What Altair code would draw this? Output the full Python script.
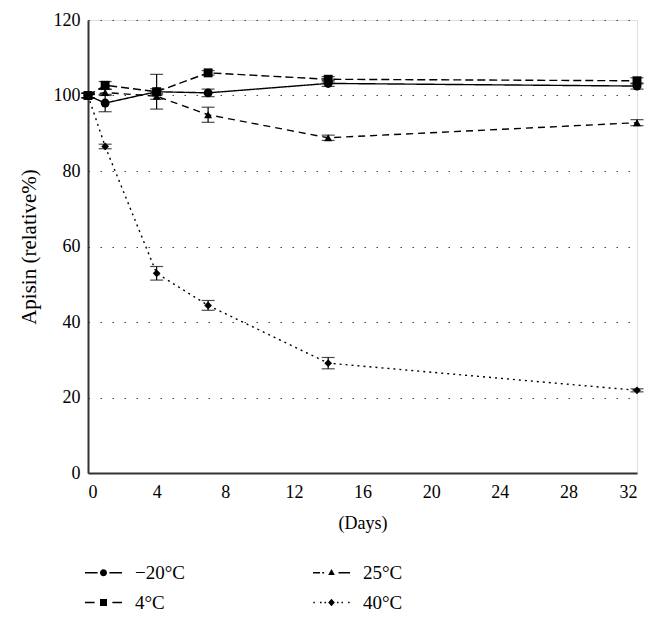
import altair as alt
import pandas as pd

days = [0, 1, 4, 7, 14, 32]
series_names = ["−20°C", "4°C", "25°C", "40°C"]
values = {
    "−20°C": [100, 98.0, 101.0, 100.7, 103.2, 102.5],
    "4°C": [100, 102.7, 101.0, 106.0, 104.3, 103.9],
    "25°C": [100, 100.8, 99.8, 94.9, 88.8, 92.8],
    "40°C": [100, 86.5, 52.9, 44.4, 29.1, 21.9],
}
errors = {
    "−20°C": [0.6, 2.3, 4.6, 1.0, 0.8, 0.8],
    "4°C": [0.6, 1.0, 0.8, 0.6, 0.7, 0.8],
    "25°C": [0.6, 0.8, 0.8, 2.0, 0.7, 0.8],
    "40°C": [0.6, 0.6, 1.8, 1.3, 1.5, 0.4],
}
x_ticks = [0, 4, 8, 12, 16, 20, 24, 28, 32]
y_ticks = [0, 20, 40, 60, 80, 100, 120]

rows = []
for s in series_names:
    for d, v, e in zip(days, values[s], errors[s]):
        rows.append({"day": d, "series": s, "value": v, "lo": v - e, "hi": v + e})
df = pd.DataFrame(rows)

FONT = "Liberation Serif"
W, H = 549, 453

x = alt.X("day:Q", scale=alt.Scale(domain=[0, 32], nice=False),
          axis=alt.Axis(values=x_ticks, title="(Days)", grid=False, ticks=False,
                        labelPadding=10, titlePadding=13, labelFontSize=18,
                        titleFontSize=18, titleFontWeight="normal", labelFont=FONT,
                        titleFont=FONT, domainColor="#333", domainWidth=2,
                        labelColor="black", titleColor="black"))
yscale = alt.Scale(domain=[0, 120], nice=False)

# dash scale listed in reverse order so it is not merged with the legend's scale
dash_domain = series_names[::-1]
dash_range = [[2, 4], [7, 5], [8, 4], [1, 0]]
line_dash = alt.StrokeDash(
    "series:N",
    scale=alt.Scale(domain=dash_domain, range=dash_range),
    legend=None,
)

lines = alt.Chart(df).mark_line(color="black", strokeWidth=1.4).encode(
    x=x,
    y=alt.Y("value:Q", scale=yscale,
            axis=alt.Axis(values=y_ticks, title="Apisin (relative%)", ticks=False,
                          labelPadding=8, titlePadding=14, labelFontSize=18,
                          titleFontSize=21, titleFontWeight="normal",
                          labelFont=FONT, titleFont=FONT, domainColor="#333",
                          domainWidth=2, gridColor="#444", gridDash=[1.5, 10.5],
                          gridWidth=1.2, labelColor="black", titleColor="black")),
    strokeDash=line_dash,
    detail="series:N",
)

bars = alt.Chart(df).mark_rule(color="black", strokeWidth=1.2).encode(
    x="day:Q", y="lo:Q", y2="hi:Q")
cap_lo = alt.Chart(df).mark_tick(color="black", orient="horizontal", size=13,
                                 thickness=1.2).encode(x="day:Q", y="lo:Q")
cap_hi = alt.Chart(df).mark_tick(color="black", orient="horizontal", size=13,
                                 thickness=1.2).encode(x="day:Q", y="hi:Q")

marker_shapes = ["circle", "square", "triangle-up", "diamond"]
marker_sizes = [80, 80, 65, 60]
point_layers = [
    alt.Chart(df).transform_filter(alt.datum.series == s).mark_point(
        filled=True, color="black", opacity=1, shape=shp, size=sz
    ).encode(x="day:Q", y="value:Q")
    for s, shp, sz in zip(series_names, marker_shapes, marker_sizes)
]


# legend glyphs: line segments drawn as thin bars plus a filled marker
def seg(a, b, t=0.04):
    return f"M{a},-{t}L{b},-{t}L{b},{t}L{a},{t}"


circ = "M-0.19,0A0.19,0.19,0,1,1,0.19,0A0.19,0.19,0,1,1,-0.19,0"
sq = "M-0.19,-0.19L0.19,-0.19L0.19,0.19L-0.19,0.19"
tri = "M0,-0.2L0.18,0.12L-0.18,0.12"
dia = "M0,-0.2L0.18,0L0,0.2L-0.18,0"
legend_paths = [
    seg(-1, -0.32) + seg(0.32, 1) + circ,
    seg(-1, -0.48) + seg(0.48, 1) + sq,
    seg(-1, -0.62) + seg(-0.5, -0.4) + seg(0.38, 1) + tri,
    seg(-0.98, -0.9) + seg(-0.62, -0.54) + seg(-0.38, -0.3)
    + seg(0.3, 0.38) + seg(0.54, 0.62) + seg(0.9, 0.98) + dia,
]

legend_layer = alt.Chart(df).mark_point(
    filled=True, fill="black", stroke="black", strokeWidth=1.5, opacity=0
).encode(
    x="day:Q",
    y="value:Q",
    shape=alt.Shape(
        "series:N",
        scale=alt.Scale(domain=series_names, range=legend_paths),
        legend=alt.Legend(
            title=None, orient="none", legendX=-4, legendY=H + 80, columns=2,
            columnPadding=125, rowPadding=-4, symbolSize=1369, symbolOpacity=1,
            symbolFillColor="black", symbolStrokeColor="black",
            symbolStrokeWidth=1.5, labelFont=FONT, labelFontSize=19,
            labelOffset=12, labelColor="black",
        ),
    ),
)

chart = alt.layer(lines, bars, cap_lo, cap_hi, *point_layers, legend_layer).properties(
    width=W, height=H,
    autosize=alt.AutoSizeParams(type="none"),
    padding={"left": 80, "top": 12, "right": 15, "bottom": 140},
).configure_view(stroke="#666", strokeWidth=1).configure(background="white")

chart.save("out.html", embed_options={"renderer": "svg", "actions": False})
